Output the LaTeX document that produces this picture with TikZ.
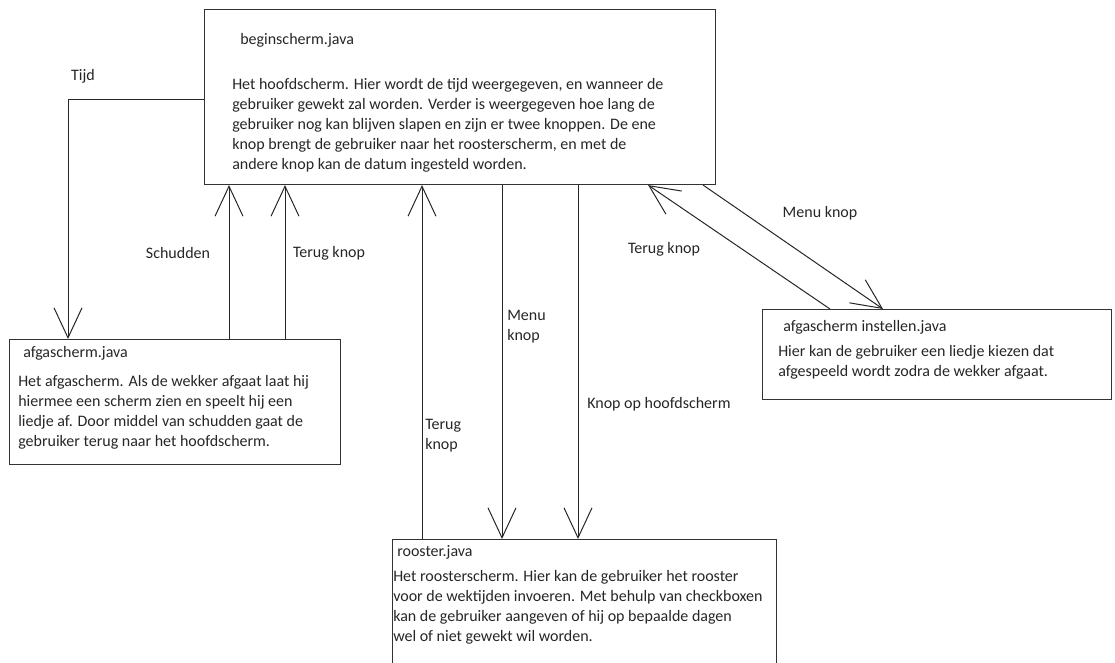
\documentclass[tikz,border=0pt]{standalone}
\usepackage{fontspec}
\setmainfont{Carlito}
\usetikzlibrary{calc,arrows.meta}
\tikzstyle{screen} = [rectangle, draw=black!80, line width=0.8pt, anchor=north west, inner sep=0pt]
\tikzstyle{title} = [anchor=west, inner sep=0pt, text=black!85]
\tikzstyle{info} = [anchor=north west, inner sep=0pt, align=left, text=black!85]
\tikzstyle{edgetext} = [inner sep=0pt, align=left, text=black!85]
\tikzstyle{arrow} = [line width=0.75pt, draw=black!85, -{Straight Barb[length=22.5pt, width=21pt]}]

\begin{document}
\begin{tikzpicture}[x=0.75pt, y=-0.75pt, font=\fontsize{12}{15}\selectfont]
    \useasboundingbox (0,0) rectangle (1115,663);
    % screens
    \node (begin)[screen, minimum width=383.25pt, minimum height=131.25pt] at (204,9) {};
    \node (begintitle)[title] at (240,40) {beginscherm.java};
    \node (begintext)[info] at (232,78) {Het hoofdscherm. Hier wordt de tijd weergegeven, en wanneer de\\
      gebruiker gewekt zal worden. Verder is weergegeven hoe lang de\\
      gebruiker nog kan blijven slapen en zijn er twee knoppen. De ene\\
      knop brengt de gebruiker naar het roosterscherm, en met de\\
      andere knop kan de datum ingesteld worden.};

    \node (alarm)[screen, minimum width=248.25pt, minimum height=93.75pt] at (9,339) {};
    \node (alarmtitle)[title] at (23,353) {afgascherm.java};
    \node (alarmtext)[info] at (18,375) {Het afgascherm. Als de wekker afgaat laat hij\\
      hiermee een scherm zien en speelt hij een\\
      liedje af. Door middel van schudden gaat de\\
      gebruiker terug naar het hoofdscherm.};

    \node (rooster)[screen, minimum width=288pt, minimum height=97pt] at (392,539) {};
    \node (roostertitle)[title] at (397,552) {rooster.java};
    \node (roostertext)[info] at (393,570) {Het roosterscherm. Hier kan de gebruiker het rooster\\
      voor de wektijden invoeren. Met behulp van checkboxen\\
      kan de gebruiker aangeven of hij op bepaalde dagen\\
      wel of niet gewekt wil worden.};

    \node (settings)[screen, minimum width=261.75pt, minimum height=67.5pt] at (762,309) {};
    \node (settingstitle)[title] at (783,327) {afgascherm instellen.java};
    \node (settingstext)[info] at (778,345) {Hier kan de gebruiker een liedje kiezen dat\\
      afgespeeld wordt zodra de wekker afgaat.};

    % connectors
    \draw [arrow] ($(begin.north west)+(0,91)$) -| ($(alarm.north west)+(59,0)$);
    \draw [arrow] ($(alarm.north west)+(220,0)$) -- ($(begin.south west)+(25,0)$);
    \draw [arrow] ($(alarm.north west)+(276,0)$) -- ($(begin.south west)+(81,0)$);
    \draw [arrow] ($(rooster.north west)+(30,0)$) -- ($(begin.south west)+(218,0)$);
    \draw [arrow] ($(begin.south west)+(298,0)$) -- ($(rooster.north west)+(110,0)$);
    \draw [arrow] ($(begin.south west)+(374,0)$) -- ($(rooster.north west)+(186,0)$);
    \draw [arrow] ($(settings.north west)+(68,0)$) -- ($(begin.south east)+(-68,0)$);
    \draw [arrow] ($(begin.south east)+(-13,0)$) -- ($(settings.north west)+(121,0)$);

    % labels
    \node (tijd)[edgetext] at (83,76) {Tijd};
    \node (schudden)[edgetext] at (178,253) {Schudden};
    \node (terugleft)[edgetext] at (329,253) {Terug knop};
    \node (terugrooster)[edgetext, anchor=west] at (425,436) {Terug\\knop};
    \node (menurooster)[edgetext, anchor=west] at (507,327) {Menu\\knop};
    \node (hoofdknop)[edgetext, anchor=west] at (587,404) {Knop op hoofdscherm};
    \node (terugright)[edgetext] at (664,249) {Terug knop};
    \node (menuright)[edgetext] at (820,213) {Menu knop};
  \end{tikzpicture}
\end{document}
